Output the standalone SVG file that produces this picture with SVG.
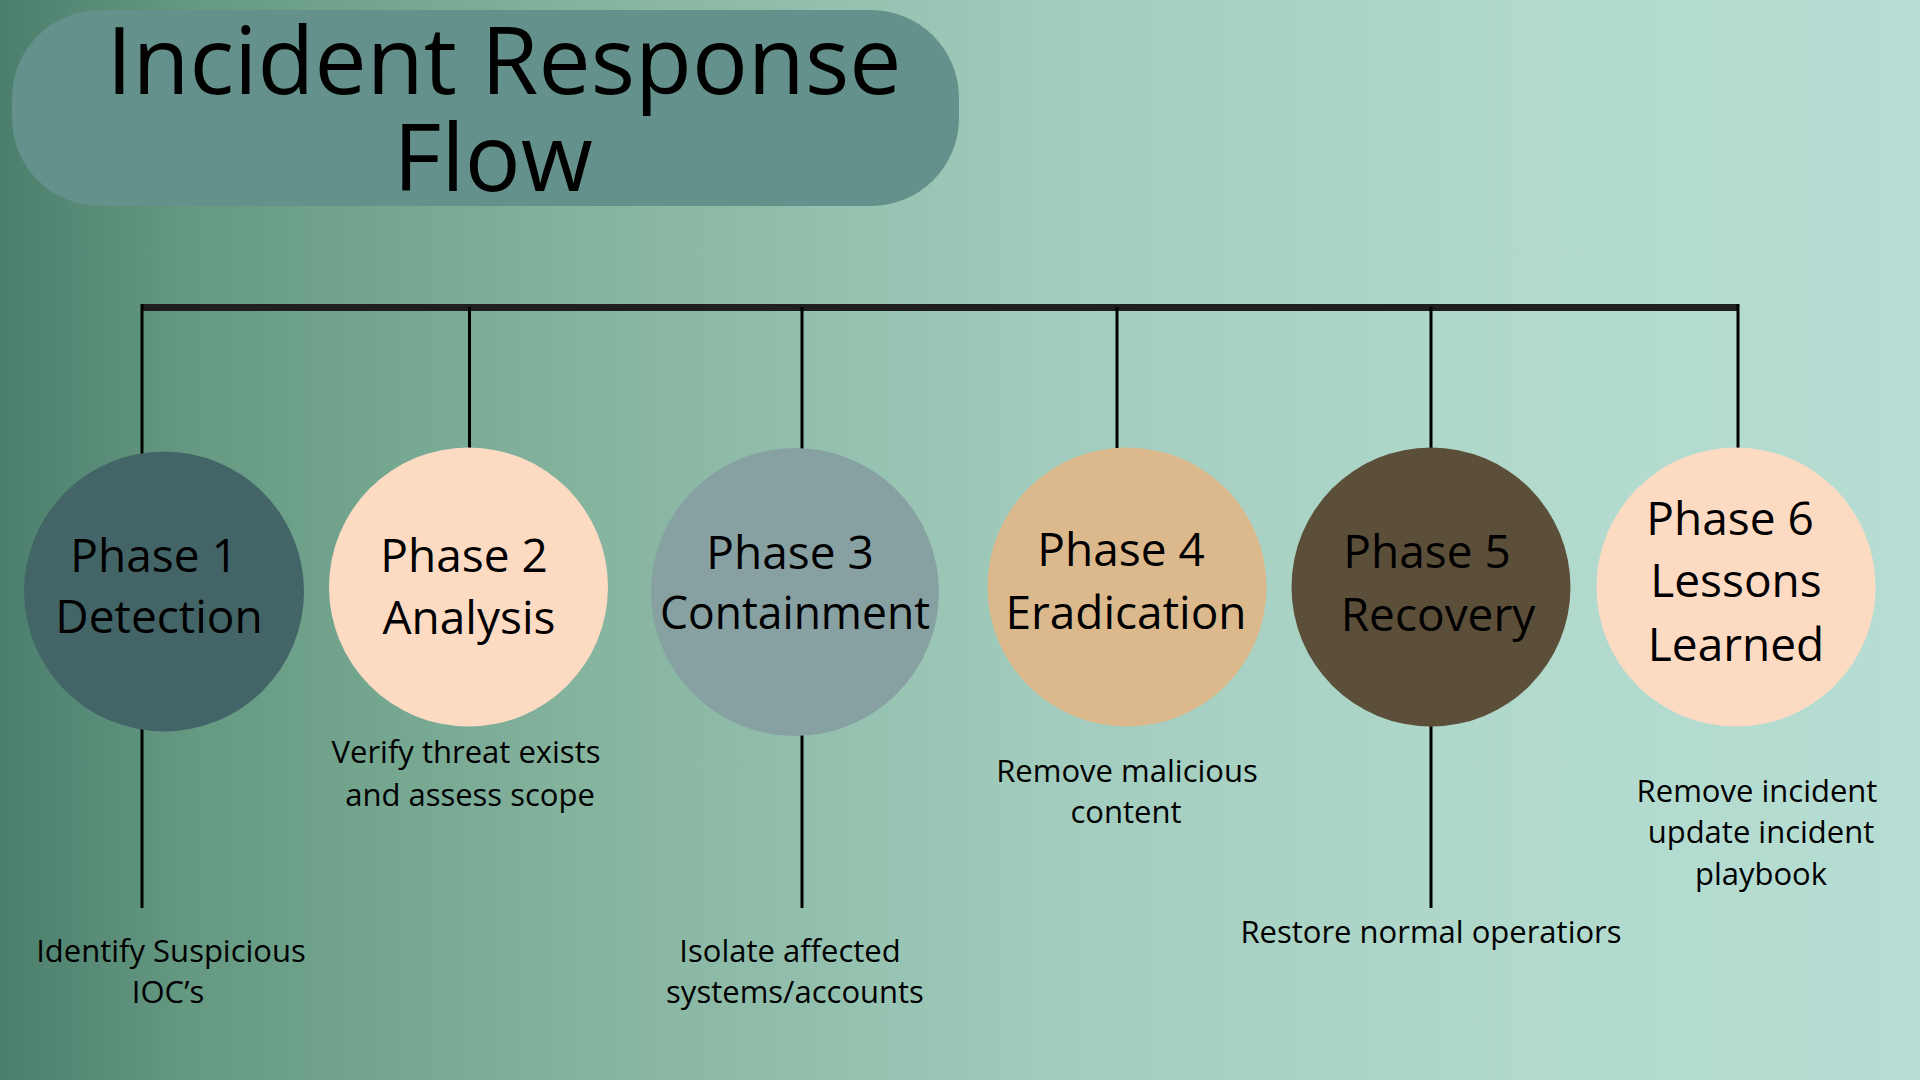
<svg xmlns="http://www.w3.org/2000/svg" width="1920" height="1080" viewBox="0 0 1920 1080">
  <defs>
    <linearGradient id="bg" x1="0" y1="0.5" x2="1" y2="0.5">
      <stop offset="0" stop-color="#4b7f6d"/>
      <stop offset="0.1" stop-color="#659982"/>
      <stop offset="0.3" stop-color="#84b39e"/>
      <stop offset="0.55" stop-color="#a2ccbd"/>
      <stop offset="0.8" stop-color="#b1dacd"/>
      <stop offset="1" stop-color="#b6ddd3"/>
    </linearGradient>
    <style>
      .t { font-family: "Open Sans", "Liberation Sans", sans-serif; fill: #000; text-anchor: middle; }
      .ph { font-size: 46px; }
      .ds { font-size: 31px; }
      .ttl { font-size: 93px; }
      .v { stroke: #000; stroke-width: 3; fill: none; }
      .bar { stroke: #1f1f1f; stroke-width: 7; fill: none; }
    </style>
  </defs>

  <rect x="0" y="0" width="1920" height="1080" fill="url(#bg)"/>

  <g id="title">
    <rect x="12" y="10" width="947" height="196" rx="88" ry="88" fill="#64918b"/>
    <text class="t ttl" x="504" y="94">Incident Response</text>
    <text class="t ttl" x="493" y="191">Flow</text>
  </g>

  <g id="connectors">
    <line class="bar" x1="142" y1="307.5" x2="1739" y2="307.5"/>
    <line class="v" x1="142" y1="304" x2="142" y2="454"/>
    <line class="v" x1="469.5" y1="307" x2="469.5" y2="450"/>
    <line class="v" x1="802" y1="307" x2="802" y2="450"/>
    <line class="v" x1="1117" y1="307" x2="1117" y2="450"/>
    <line class="v" x1="1431" y1="307" x2="1431" y2="450"/>
    <line class="v" x1="1738" y1="304" x2="1738" y2="450"/>
    <line class="v" x1="142" y1="729" x2="142" y2="908"/>
    <line class="v" x1="802" y1="734" x2="802" y2="908"/>
    <line class="v" x1="1431" y1="725" x2="1431" y2="908"/>
  </g>

  <g id="phase1">
    <circle cx="164" cy="591.5" r="140" fill="#436567"/>
    <text class="t ph" x="154" y="572">Phase 1</text>
    <text class="t ph" x="159" y="633">Detection</text>
    <text class="t ds" x="171" y="962">Identify Suspicious</text>
    <text class="t ds" x="168" y="1003">IOC’s</text>
  </g>

  <g id="phase2">
    <circle cx="468.5" cy="587" r="139.5" fill="#fddbc3"/>
    <text class="t ph" x="464" y="572">Phase 2</text>
    <text class="t ph" x="469" y="634">Analysis</text>
    <text class="t ds" x="466" y="763">Verify threat exists</text>
    <text class="t ds" x="470" y="806">and assess scope</text>
  </g>

  <g id="phase3">
    <circle cx="795" cy="592" r="144" fill="#87a0a2"/>
    <text class="t ph" x="790" y="569">Phase 3</text>
    <text class="t ph" x="795" y="629" textLength="270" lengthAdjust="spacingAndGlyphs">Containment</text>
    <text class="t ds" x="790" y="962">Isolate affected</text>
    <text class="t ds" x="795" y="1003">systems/accounts</text>
  </g>

  <g id="phase4">
    <circle cx="1127" cy="587" r="139.5" fill="#dbb98c"/>
    <text class="t ph" x="1121" y="566">Phase 4</text>
    <text class="t ph" x="1126" y="629">Eradication</text>
    <text class="t ds" x="1127" y="782">Remove malicious</text>
    <text class="t ds" x="1126" y="823">content</text>
  </g>

  <g id="phase5">
    <circle cx="1431" cy="587" r="139.5" fill="#5c4f3a"/>
    <text class="t ph" x="1427" y="568">Phase 5</text>
    <text class="t ph" x="1438" y="631">Recovery</text>
    <text class="t ds" x="1431" y="943">Restore normal operatiors</text>
  </g>

  <g id="phase6">
    <circle cx="1736" cy="587" r="139.5" fill="#fddbc3"/>
    <text class="t ph" x="1730" y="535">Phase 6</text>
    <text class="t ph" x="1736" y="597">Lessons</text>
    <text class="t ph" x="1736" y="661">Learned</text>
    <text class="t ds" x="1757" y="802">Remove incident</text>
    <text class="t ds" x="1761" y="843">update incident</text>
    <text class="t ds" x="1761" y="885">playbook</text>
  </g>
</svg>
